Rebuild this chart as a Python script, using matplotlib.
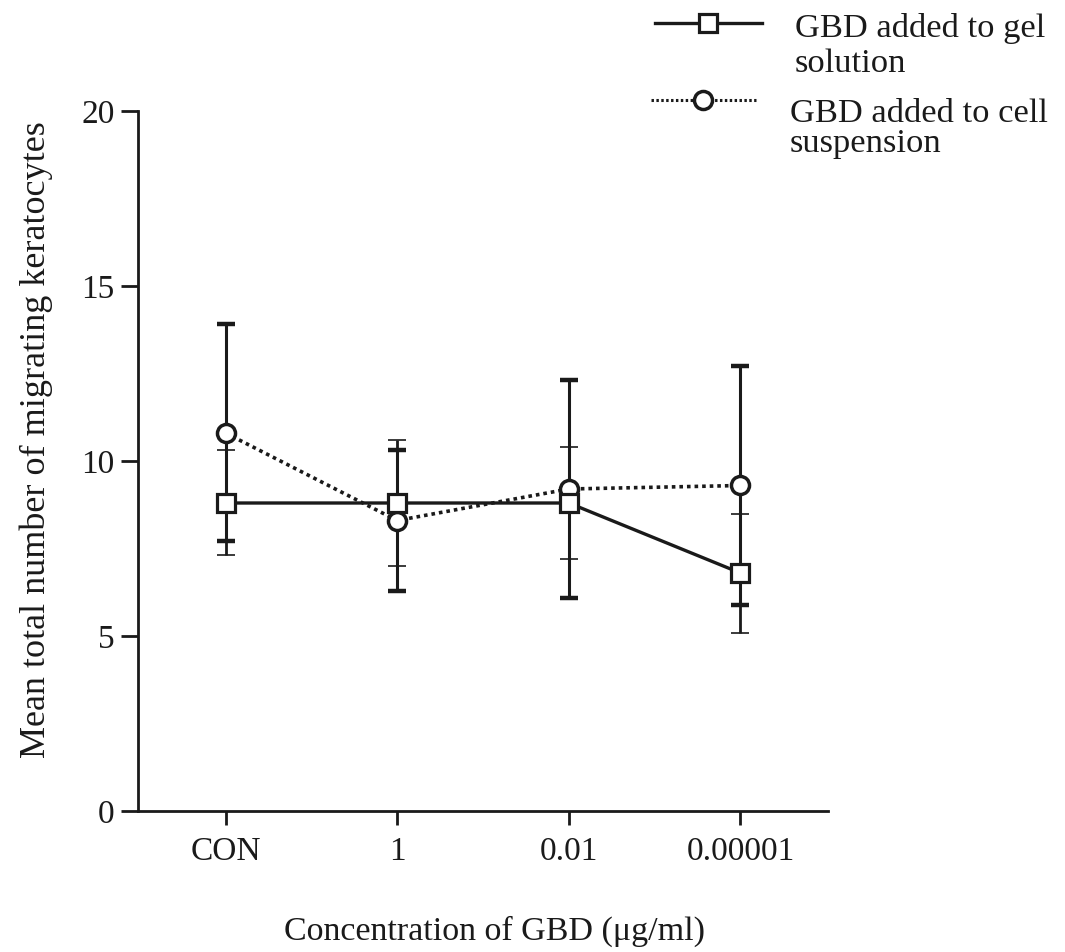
import matplotlib
matplotlib.use("Agg")
import matplotlib.pyplot as plt
from matplotlib.lines import Line2D

categories = ["CON", "1", "0.01", "0.00001"]
gel_mean = [8.8, 8.8, 8.8, 6.8]
gel_err = [1.5, 1.8, 1.6, 1.7]
cell_mean = [10.8, 8.3, 9.2, 9.3]
cell_err = [3.1, 2.0, 3.1, 3.4]
series_labels = ["GBD added to gel\nsolution", "GBD added to cell\nsuspension"]
y_ticks = [0, 5, 10, 15, 20]
xlabel = "Concentration of GBD (\u03bcg/ml)"
ylabel = "Mean total number of migrating keratocytes"

plt.rcParams['font.family'] = ['Liberation Serif', 'DejaVu Serif']
FS = 24

fig = plt.figure(figsize=(10.65, 9.52), dpi=100)
ax = fig.add_axes([138/1065, 1-811/952, 690/1065, 700/952])

x = list(range(len(categories)))

# error bars
ax.errorbar(x, cell_mean, yerr=cell_err, fmt='none', ecolor='#1a1a1a',
            elinewidth=2.2, capsize=6.5, capthick=3.2, zorder=2)
ax.errorbar(x, gel_mean, yerr=gel_err, fmt='none', ecolor='#1a1a1a',
            elinewidth=2.0, capsize=6.5, capthick=1.2, zorder=2)

# series lines + markers
ax.plot(x, cell_mean, linestyle=(0, (1, 1.1)), color='#1a1a1a', lw=2.6,
        marker='o', markersize=13, markerfacecolor='white',
        markeredgecolor='#1a1a1a', markeredgewidth=2.5, zorder=3)
ax.plot(x, gel_mean, linestyle='-', color='#1a1a1a', lw=2.4,
        marker='s', markersize=12.5, markerfacecolor='white',
        markeredgecolor='#1a1a1a', markeredgewidth=2.3, zorder=4)

ax.set_xlim(-0.51, 3.51)
ax.set_ylim(0, 20)
ax.set_xticks(x)
ax.set_xticklabels(categories)
ax.set_yticks(y_ticks)
ax.tick_params(axis='y', direction='out', length=12, width=2, pad=5,
               labelsize=FS, colors='#1a1a1a')
ax.tick_params(axis='x', direction='out', length=10, width=2, pad=8,
               labelsize=FS, colors='#1a1a1a')
for s in ['top', 'right']:
    ax.spines[s].set_visible(False)
for s in ['left', 'bottom']:
    ax.spines[s].set_linewidth(2)
    ax.spines[s].set_color('#1a1a1a')

fig.text(36/1065, 1-440/952, ylabel, rotation=90, ha='center', va='center',
         fontsize=26, color='#1a1a1a')
fig.text(495/1065, 1-940/952, xlabel, ha='center', va='baseline',
         fontsize=24.5, color='#1a1a1a')

# legend (manual, in figure pixel coordinates)
def px(xp, yp):
    return xp/1065, 1-yp/952

l1 = Line2D([655/1065, 762/1065], [1-22.7/952]*2, transform=fig.transFigure,
            color='#1a1a1a', lw=2.4)
m1 = Line2D([708/1065], [1-22.7/952], transform=fig.transFigure,
            marker='s', markersize=12.5, markerfacecolor='white',
            markeredgecolor='#1a1a1a', markeredgewidth=2.3, linestyle='none')
l2 = Line2D([651/1065, 756/1065], [1-100/952]*2, transform=fig.transFigure,
            color='#1a1a1a', lw=2.2, linestyle=(0, (0.8, 0.8)))
m2 = Line2D([703/1065], [1-100/952], transform=fig.transFigure,
            marker='o', markersize=13, markerfacecolor='white',
            markeredgecolor='#1a1a1a', markeredgewidth=2.5, linestyle='none')
for a in (l1, l2, m1, m2):
    fig.add_artist(a)

baselines = [(795, [36.7, 71.7]), (790, [121.7, 152])]
for lab, (xs, bls) in zip(series_labels, baselines):
    for line, bl in zip(lab.split("\n"), bls):
        fig.text(*px(xs, bl), line, ha='left', va='baseline', fontsize=24.8,
                 color='#1a1a1a')

fig.savefig("out.png", dpi=100, facecolor='white')
